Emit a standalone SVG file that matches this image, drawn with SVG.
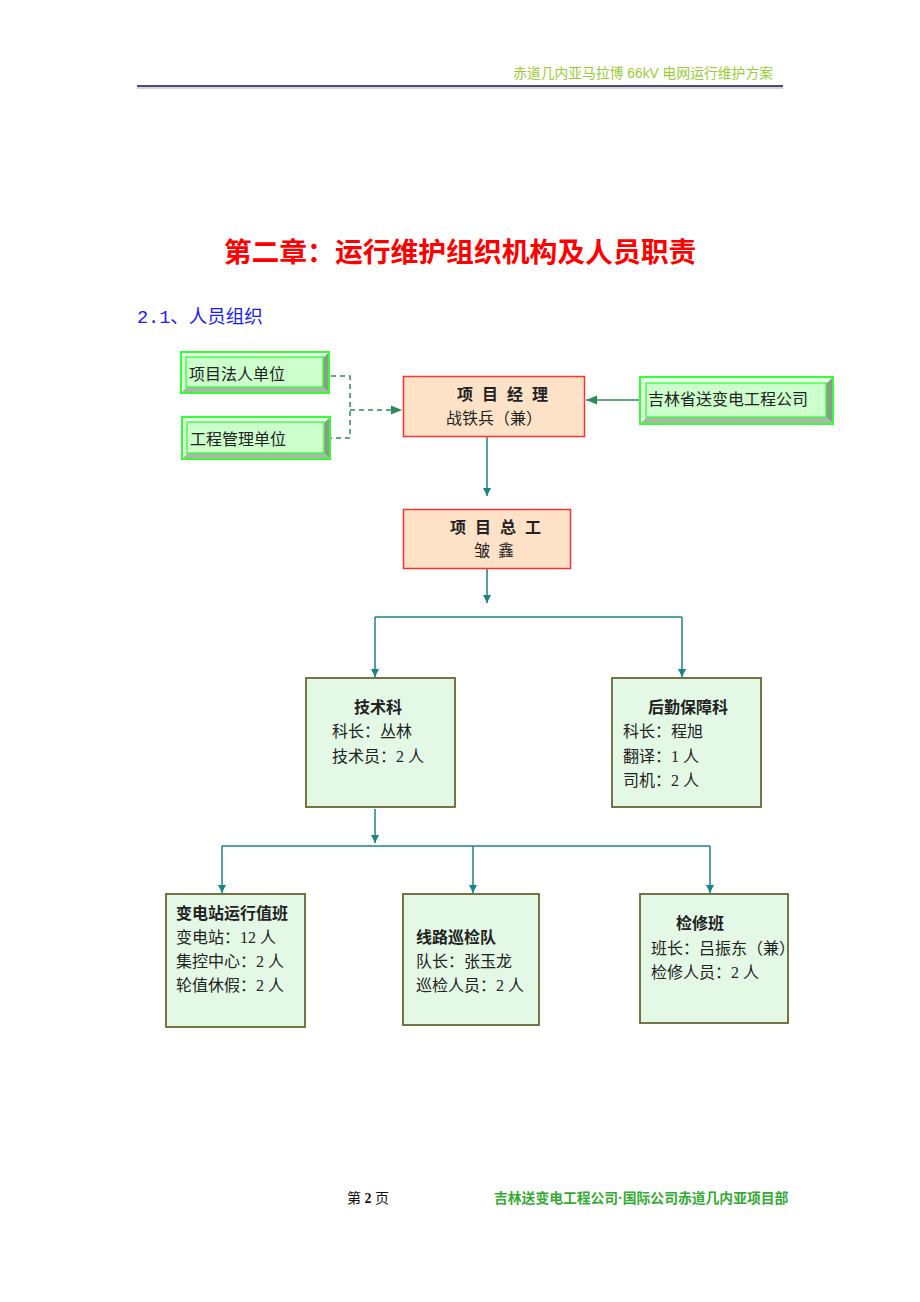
<svg xmlns="http://www.w3.org/2000/svg" width="920" height="1302" viewBox="0 0 920 1302">
<defs>
<style>
.serif{font-family:"Liberation Serif","Noto Sans CJK SC",serif;}
.sans{font-family:"Liberation Sans","Noto Sans CJK SC",sans-serif;}
.t{font-size:16px;fill:#222;}
.b{font-weight:bold;}
.peach{fill:#fde2c8;stroke:#ff3030;stroke-width:1.5;}
.cyan{fill:#e3f9e6;stroke:#666633;stroke-width:1.8;}
.gout{fill:#ccffcc;stroke:#33ff33;stroke-width:2;}
.gin{fill:#ccffcc;stroke:#33ff33;stroke-width:1.3;}
.bt{fill:#eaffea;}
.bl{fill:#ddffdd;}
.br{fill:#8c9c8c;}
.bb{fill:#a8b8a8;}
.conn{fill:none;stroke:#1a8585;stroke-width:1.5;}
.dash{fill:none;stroke:#2e8b57;stroke-width:1.5;stroke-dasharray:5,4;}
.solidg{fill:none;stroke:#2e8b57;stroke-width:1.5;}
</style>
<marker id="arr" viewBox="0 0 10 10" refX="10" refY="5" markerWidth="8" markerHeight="8" markerUnits="userSpaceOnUse" orient="auto">
<path d="M0,0 L10,5 L0,10 z" fill="#1a8585"/>
</marker>
<marker id="arrg" viewBox="0 0 10 10" refX="10" refY="5" markerWidth="11" markerHeight="11" markerUnits="userSpaceOnUse" orient="auto">
<path d="M0,1 L10,5 L0,9 z" fill="#2e8b57"/>
</marker>
</defs>
<rect width="920" height="1302" fill="#ffffff"/>

<!-- header -->
<text x="773" y="78" text-anchor="end" class="sans" font-size="13.8" fill="#99cc33">赤道几内亚马拉博 66kV 电网运行维护方案</text>
<line x1="137" y1="88" x2="783" y2="88" stroke="#b0a8b8" stroke-width="1"/>
<line x1="137" y1="86" x2="783" y2="86" stroke="#101040" stroke-width="1.6"/>

<!-- titles -->
<text x="460" y="262" text-anchor="middle" class="sans b" font-size="27.8" fill="#ff0000">第二章：运行维护组织机构及人员职责</text>
<text x="137" y="323" class="serif" font-size="18.5" fill="#1a1aff"><tspan font-family="Liberation Mono, monospace">2.1</tspan>、人员组织</text>

<!-- connectors -->
<g id="connectors">
<polyline class="dash" points="331,376 350,376 350,438 331,438"/>
<line class="dash" x1="350" y1="410" x2="402" y2="410" marker-end="url(#arrg)"/>
<line class="solidg" x1="639" y1="400" x2="586" y2="400" marker-end="url(#arrg)"/>
<line class="conn" x1="487" y1="437" x2="487" y2="496" marker-end="url(#arr)"/>
<line class="conn" x1="487" y1="569" x2="487" y2="603" marker-end="url(#arr)"/>
<polyline class="conn" points="375,617 682,617"/>
<line class="conn" x1="375" y1="617" x2="375" y2="677" marker-end="url(#arr)"/>
<line class="conn" x1="682" y1="617" x2="682" y2="677" marker-end="url(#arr)"/>
<line class="conn" x1="375" y1="809" x2="375" y2="843" marker-end="url(#arr)"/>
<polyline class="conn" points="222,846 710,846"/>
<line class="conn" x1="222" y1="846" x2="222" y2="893" marker-end="url(#arr)"/>
<line class="conn" x1="473" y1="846" x2="473" y2="893" marker-end="url(#arr)"/>
<line class="conn" x1="710" y1="846" x2="710" y2="893" marker-end="url(#arr)"/>
</g>

<!-- green bevel boxes -->
<g id="n-faren">
<rect class="gout" x="181" y="352" width="148" height="41"/>
<polygon class="bt" points="182,353 328,353 323,358 187,358"/>
<polygon class="bl" points="182,353 187,358 187,387 182,392"/>
<polygon class="br" points="328,353 328,392 323,387 323,358"/>
<polygon class="bb" points="182,392 328,392 323,387 187,387"/>
<rect class="gin" x="186" y="357" width="137" height="30"/>
<text x="189" y="380" class="serif t">项目法人单位</text>
</g>
<g id="n-guanli">
<rect class="gout" x="182" y="417" width="148" height="42"/>
<polygon class="bt" points="183,418 329,418 324,423 188,423"/>
<polygon class="bl" points="183,418 188,423 188,453 183,458"/>
<polygon class="br" points="329,418 329,458 324,453 324,423"/>
<polygon class="bb" points="183,458 329,458 324,453 188,453"/>
<rect class="gin" x="187" y="422" width="137" height="31"/>
<text x="190" y="445" class="serif t">工程管理单位</text>
</g>
<g id="n-jilin">
<rect class="gout" x="640" y="377" width="193" height="47"/>
<polygon class="bt" points="641,378 832,378 826,384 647,384"/>
<polygon class="bl" points="641,378 647,384 647,417 641,423"/>
<polygon class="br" points="832,378 832,423 826,417 826,384"/>
<polygon class="bb" points="641,423 832,423 826,417 647,417"/>
<rect class="gin" x="646" y="383" width="180" height="34"/>
<text x="648" y="405" class="serif t">吉林省送变电工程公司</text>
</g>

<!-- peach boxes -->
<g id="n-jingli">
<rect class="peach" x="403.5" y="376.5" width="181" height="60"/>
<text x="457" y="400" class="serif t b" font-size="15" letter-spacing="9">项目经理</text>
<text x="494" y="424" text-anchor="middle" class="serif t">战铁兵（兼）</text>
</g>
<g id="n-zonggong">
<rect class="peach" x="403.5" y="509.5" width="167" height="59"/>
<text x="450" y="533" class="serif t b" font-size="15" letter-spacing="9">项目总工</text>
<text x="474" y="556" class="serif t" letter-spacing="8">皱鑫</text>
</g>

<!-- cyan boxes -->
<g id="n-jishu">
<rect class="cyan" x="306" y="678" width="149" height="129"/>
<text x="378" y="713" text-anchor="middle" class="serif t b">技术科</text>
<text x="332" y="737" class="serif t">科长：丛林</text>
<text x="332" y="762" class="serif t">技术员：2 人</text>
</g>
<g id="n-houqin">
<rect class="cyan" x="612" y="678" width="149" height="129"/>
<text x="688" y="713" text-anchor="middle" class="serif t b">后勤保障科</text>
<text x="623" y="737" class="serif t">科长：程旭</text>
<text x="623" y="762" class="serif t">翻译：1 人</text>
<text x="623" y="786" class="serif t">司机：2 人</text>
</g>
<g id="n-biandian">
<rect class="cyan" x="166" y="894" width="139" height="133"/>
<text x="176" y="919" class="serif t b">变电站运行值班</text>
<text x="176" y="943" class="serif t">变电站：12 人</text>
<text x="176" y="967" class="serif t">集控中心：2 人</text>
<text x="176" y="991" class="serif t">轮值休假：2 人</text>
</g>
<g id="n-xianlu">
<rect class="cyan" x="403" y="894" width="136" height="131"/>
<text x="416" y="943" class="serif t b">线路巡检队</text>
<text x="416" y="967" class="serif t">队长：张玉龙</text>
<text x="416" y="991" class="serif t">巡检人员：2 人</text>
</g>
<g id="n-jianxiu">
<rect class="cyan" x="640" y="894" width="148" height="129"/>
<text x="676" y="929" class="serif t b">检修班</text>
<text x="651" y="954" class="serif t">班长：吕振东（兼）</text>
<text x="651" y="978" class="serif t">检修人员：2 人</text>
</g>

<!-- footer -->
<text x="347" y="1203" class="serif" font-size="14" fill="#111">第 <tspan font-weight="bold">2</tspan> 页</text>
<text x="494" y="1203" class="sans b" font-size="13.8" fill="#33aa33">吉林送变电工程公司·国际公司赤道几内亚项目部</text>
</svg>
